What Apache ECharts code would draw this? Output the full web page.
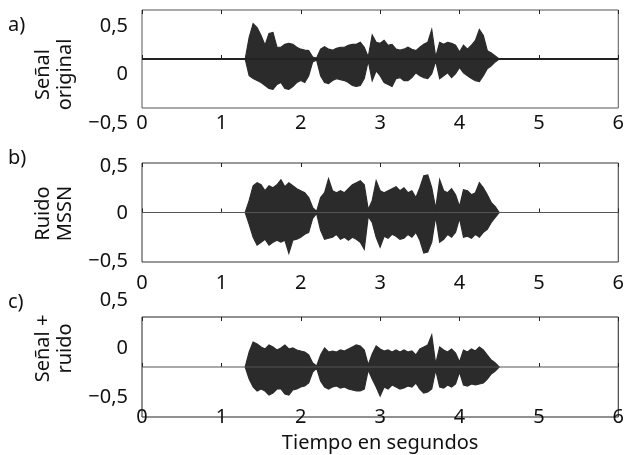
<!DOCTYPE html>
<html>
<head>
<meta charset="utf-8">
<script src="https://cdn.jsdelivr.net/npm/echarts@6/dist/echarts.min.js"></script>
<style>
  html, body { margin: 0; padding: 0; background: #fff; }
  #chart { width: 627px; height: 455px; }
</style>
</head>
<body>
<div id="chart"></div>
<script>
// instantes de muestreo de la envolvente (s)
var times = [1.30, 1.35, 1.40, 1.45, 1.50, 1.55, 1.60, 1.65, 1.70, 1.75,
  1.80, 1.85, 1.90, 1.95, 2.00, 2.05, 2.10, 2.15, 2.20, 2.25,
  2.30, 2.35, 2.40, 2.45, 2.50, 2.55, 2.60, 2.65, 2.70, 2.75,
  2.80, 2.85, 2.90, 2.95, 3.00, 3.05, 3.10, 3.15, 3.20, 3.25,
  3.30, 3.35, 3.40, 3.45, 3.50, 3.55, 3.60, 3.65, 3.70, 3.75,
  3.80, 3.85, 3.90, 3.95, 4.00, 4.05, 4.10, 4.15, 4.20, 4.25,
  4.30, 4.35, 4.40, 4.45, 4.50];

// a) señal original: envolvente superior / inferior
var senalHi = [0.00, 0.22, 0.36, 0.32, 0.24, 0.14, 0.26, 0.27, 0.12, 0.12,
  0.15, 0.16, 0.15, 0.12, 0.10, 0.09, 0.085, 0.02, 0.01, 0.10,
  0.125, 0.10, 0.09, 0.11, 0.12, 0.12, 0.14, 0.15, 0.15, 0.17,
  0.12, 0.02, 0.245, 0.17, 0.16, 0.19, 0.14, 0.15, 0.10, 0.09,
  0.10, 0.12, 0.10, 0.085, 0.12, 0.15, 0.17, 0.30, 0.02, 0.17,
  0.15, 0.17, 0.16, 0.14, 0.07, 0.14, 0.10, 0.14, 0.19, 0.30,
  0.24, 0.085, 0.06, 0.03, 0.00];
var senalLo = [0.00, -0.17, -0.20, -0.22, -0.24, -0.27, -0.30, -0.31, -0.26, -0.24,
  -0.30, -0.31, -0.28, -0.24, -0.22, -0.24, -0.17, -0.03, -0.01, -0.17,
  -0.24, -0.25, -0.22, -0.20, -0.21, -0.22, -0.24, -0.27, -0.28, -0.27,
  -0.20, -0.02, -0.22, -0.12, -0.17, -0.24, -0.26, -0.28, -0.20, -0.19,
  -0.22, -0.22, -0.19, -0.14, -0.17, -0.19, -0.20, -0.15, -0.02, -0.20,
  -0.17, -0.14, -0.19, -0.15, -0.085, -0.14, -0.17, -0.20, -0.22, -0.23,
  -0.17, -0.10, -0.07, -0.03, 0.00];

// b) ruido MSSN
var ruidoHi = [0.00, 0.12, 0.27, 0.30, 0.28, 0.22, 0.27, 0.25, 0.28, 0.33,
  0.26, 0.30, 0.27, 0.24, 0.22, 0.20, 0.15, 0.05, 0.01, 0.15,
  0.20, 0.34, 0.22, 0.20, 0.22, 0.20, 0.24, 0.28, 0.30, 0.32,
  0.28, 0.03, 0.12, 0.32, 0.22, 0.20, 0.22, 0.24, 0.26, 0.22,
  0.25, 0.20, 0.22, 0.15, 0.25, 0.37, 0.38, 0.25, 0.04, 0.33,
  0.22, 0.20, 0.24, 0.18, 0.06, 0.23, 0.22, 0.18, 0.20, 0.30,
  0.25, 0.18, 0.10, 0.06, 0.00];
var ruidoLo = [0.00, -0.12, -0.25, -0.33, -0.30, -0.27, -0.33, -0.30, -0.28, -0.30,
  -0.28, -0.41, -0.28, -0.27, -0.25, -0.22, -0.20, -0.06, -0.01, -0.18,
  -0.27, -0.26, -0.25, -0.22, -0.27, -0.25, -0.28, -0.25, -0.27, -0.30,
  -0.37, -0.04, -0.10, -0.25, -0.35, -0.24, -0.26, -0.22, -0.24, -0.27,
  -0.26, -0.22, -0.25, -0.20, -0.28, -0.41, -0.40, -0.30, -0.04, -0.30,
  -0.27, -0.22, -0.25, -0.20, -0.06, -0.25, -0.24, -0.26, -0.22, -0.25,
  -0.20, -0.17, -0.10, -0.05, 0.00];

// c) señal + ruido
var mezclaHi = [0.00, 0.15, 0.25, 0.23, 0.20, 0.18, 0.22, 0.20, 0.17, 0.19,
  0.22, 0.18, 0.19, 0.17, 0.16, 0.15, 0.12, 0.04, 0.01, 0.12,
  0.19, 0.15, 0.16, 0.15, 0.17, 0.16, 0.18, 0.20, 0.22, 0.21,
  0.17, 0.02, 0.13, 0.21, 0.18, 0.16, 0.17, 0.15, 0.17, 0.15,
  0.17, 0.15, 0.16, 0.12, 0.18, 0.20, 0.22, 0.32, 0.03, 0.20,
  0.17, 0.15, 0.18, 0.14, 0.05, 0.17, 0.15, 0.18, 0.16, 0.20,
  0.17, 0.12, 0.07, 0.04, 0.00];
var mezclaLo = [0.00, -0.12, -0.20, -0.24, -0.22, -0.24, -0.28, -0.26, -0.22, -0.22,
  -0.27, -0.28, -0.23, -0.22, -0.20, -0.19, -0.16, -0.05, -0.01, -0.14,
  -0.20, -0.22, -0.20, -0.19, -0.21, -0.20, -0.22, -0.23, -0.24, -0.24,
  -0.22, -0.03, -0.12, -0.20, -0.29, -0.20, -0.22, -0.18, -0.20, -0.22,
  -0.21, -0.19, -0.20, -0.16, -0.22, -0.26, -0.25, -0.22, -0.03, -0.20,
  -0.21, -0.18, -0.20, -0.17, -0.05, -0.18, -0.19, -0.17, -0.18, -0.17,
  -0.16, -0.12, -0.07, -0.04, 0.00];

var xTicks = [0, 1, 2, 3, 4, 5, 6];
var yTicks = [-0.5, 0, 0.5];

var FONT = 'Noto Sans';
var WAVE = '#2b2b2b';

var myChart = echarts.init(document.getElementById('chart'));

function fmt(v) {
	return String(v).replace('.', ',').replace('-', '\u2212');
}

// envolvente como un poligono, dibujado una sola vez
function envelope(hi, lo) {
	return function (params, api) {
		if (params.dataIndex !== 0) return null;
		var pts = [];
		for (var i = 0; i < times.length; i++) pts.push(api.coord([times[i], hi[i]]));
		for (var j = times.length - 1; j >= 0; j--) pts.push(api.coord([times[j], lo[j]]));
		return {
			type: 'polygon',
			shape: { points: pts },
			style: { fill: WAVE, stroke: WAVE, lineWidth: 1.2 }
		};
	};
}

function envData(hi, lo) {
	var d = [];
	for (var i = 0; i < times.length; i++) d.push([times[i], hi[i], lo[i]]);
	return d;
}

// paneles y zonas de etiquetas
var panels = [
	{ top: 10, height: 98, lab: [26, 97], name: 'Señal\noriginal', margin: 5, border: '#555' },
	{ top: 163, height: 99, lab: [166, 95], name: 'Ruido\nMSSN', margin: 11, border: '#333' },
	{ top: 317, height: 100, lab: [300, 97], name: 'Señal +\nruido', margin: -10, border: '#222' }
];

var grid = [], xAxis = [], yAxis = [];
panels.forEach(function (p, k) {
	grid.push({ left: 142, width: 478, top: p.top, height: p.height, show: true,
		borderColor: p.border, borderWidth: 1 });
});
panels.forEach(function (p, k) {
	grid.push({ left: 142, width: 478, top: p.lab[0], height: p.lab[1] });
});

panels.forEach(function (p, k) {
	xAxis.push({
		type: 'value', gridIndex: k, min: xTicks[0], max: xTicks[xTicks.length - 1], interval: 1,
		axisLine: { show: false },
		axisTick: { show: true, inside: true, length: 4, lineStyle: { color: '#222' } },
		splitLine: { show: false },
		axisLabel: { margin: p.margin, color: '#111', fontSize: 20, fontFamily: FONT,
			showMinLabel: true, showMaxLabel: true },
		name: k === 2 ? 'Tiempo en segundos' : '',
		nameLocation: 'middle', nameGap: 16,
		nameTextStyle: { color: '#111', fontSize: 20, fontFamily: FONT }
	});
});
panels.forEach(function (p, k) {
	xAxis.push({
		type: 'value', gridIndex: k, position: 'top', min: 0, max: 6, interval: 1,
		axisLine: { show: false }, axisLabel: { show: false }, splitLine: { show: false },
		axisTick: { show: true, inside: true, length: 4, lineStyle: { color: '#222' } }
	});
});
panels.forEach(function (p, k) {
	xAxis.push({ type: 'value', gridIndex: 3 + k, min: 0, max: 6, show: false });
});

panels.forEach(function (p, k) {
	yAxis.push({
		type: 'value', gridIndex: k, min: -0.5, max: 0.5,
		axisLine: { show: false }, axisTick: { show: false },
		axisLabel: { show: false }, splitLine: { show: false }
	});
});
panels.forEach(function (p, k) {
	yAxis.push({
		type: 'value', gridIndex: 3 + k, min: yTicks[0], max: yTicks[2], interval: 0.5,
		axisLine: { show: false }, axisTick: { show: false }, splitLine: { show: false },
		axisLabel: { margin: 14, color: '#111', fontSize: 20, fontFamily: FONT, formatter: fmt },
		name: p.name, nameLocation: 'middle', nameRotate: 90, nameGap: 66,
		nameTextStyle: { color: '#111', fontSize: 20, fontFamily: FONT, lineHeight: 22 }
	});
});

var waves = [[senalHi, senalLo], [ruidoHi, ruidoLo], [mezclaHi, mezclaLo]];
var series = [];
waves.forEach(function (w, k) {
	series.push({
		type: 'line', xAxisIndex: k, yAxisIndex: k, symbol: 'none', silent: true,
		data: [[0, 0], [6, 0]],
		lineStyle: { color: k === 0 ? '#222' : '#555', width: k === 0 ? 2 : 1 },
		animation: false
	});
	series.push({
		type: 'custom', xAxisIndex: k, yAxisIndex: k, silent: true,
		renderItem: envelope(w[0], w[1]),
		encode: { x: 0, y: [1, 2] },
		data: envData(w[0], w[1]),
		animation: false
	});
});

var option = {
	animation: false,
	grid: grid,
	xAxis: xAxis,
	yAxis: yAxis,
	series: series,
	graphic: [
		{ type: 'text', left: 8, top: 15, style: { text: 'a)', fontSize: 20, fontFamily: FONT, fill: '#111' } },
		{ type: 'text', left: 8, top: 148, style: { text: 'b)', fontSize: 20, fontFamily: FONT, fill: '#111' } },
		{ type: 'text', left: 8, top: 292, style: { text: 'c)', fontSize: 20, fontFamily: FONT, fill: '#111' } }
	]
};
myChart.setOption(option);
</script>
</body>
</html>
